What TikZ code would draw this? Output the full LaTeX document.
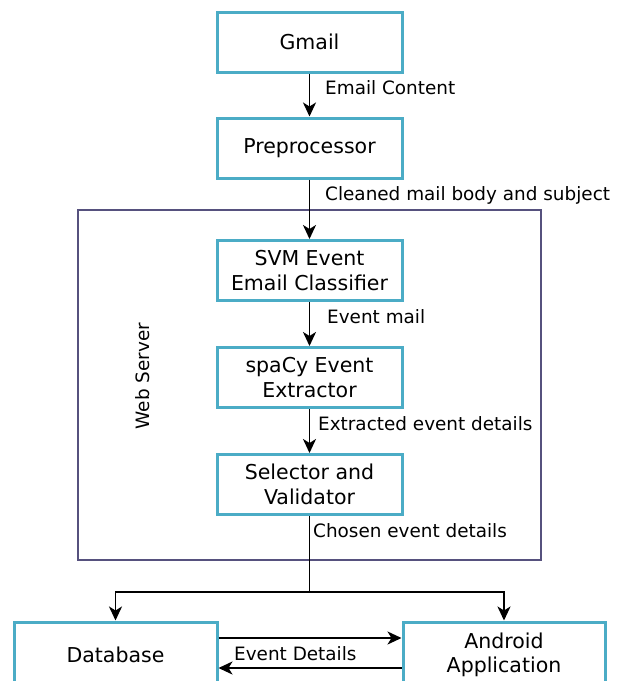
\documentclass[tikz,border=0pt]{standalone}
\usepackage{fontspec}
\setmainfont{DejaVu Sans}
\usetikzlibrary{arrows.meta}
\definecolor{boxc}{RGB}{75,172,198}
\definecolor{wsc}{RGB}{86,81,126}
\tikzset{
  x=1pt, y=-1pt,
  procbox/.style={draw=boxc, line width=3pt, fill=white, minimum width=185pt, minimum height=60pt, align=center, inner sep=0pt, font=\fontsize{20.5}{24.5}\selectfont},
  lbl/.style={anchor=west, inner sep=0pt, font=\fontsize{18.4}{22}\selectfont},
  arr/.style={line width=1.9pt, -{Stealth[length=14pt,width=13pt,inset=4pt]}},
  ln/.style={line width=1.9pt}
}
\begin{document}
\begin{tikzpicture}
\useasboundingbox (0,0) rectangle (624,681);
\clip (0,0) rectangle (624,681);
% web server container
\node[draw=wsc, line width=1.9pt, minimum width=463pt, minimum height=350pt, inner sep=0pt] (ws) at (309.5,385) {};
\node[rotate=90, font=\fontsize{18.4}{22}\selectfont, inner sep=0pt] (wslbl) at (143,376) {Web Server};
% boxes
\node[procbox] (gmail) at (309.5,42) {Gmail};
\node[procbox] (pre) at (309.5,148) {Preprocessor};
\node[procbox] (svm) at (309.5,270.5) {SVM Event\\Email Classifier};
\node[procbox] (spacy) at (309.5,377.5) {spaCy Event\\Extractor};
\node[procbox] (sel) at (309.5,484.5) {Selector and\\Validator};
\node[procbox, minimum width=203pt, minimum height=66pt] (db) at (115.5,655) {Database};
\node[procbox, minimum width=202pt, minimum height=66pt] (app) at (504,655) {Android\\Application};
% connectors
\draw[arr] (gmail) -- (pre);
\draw[arr] (pre) -- (svm);
\draw[arr] (svm) -- (spacy);
\draw[arr] (spacy) -- (sel);
\coordinate (split) at (309.5,592);
\draw[ln] (sel.south) -- (split);
\draw[arr] (split) -| (db.north);
\draw[arr] (split) -| (app.north);
\draw[arr] ([yshift=17pt]db.east) -- ([yshift=17pt]app.west);
\draw[arr] ([yshift=-13pt]app.west) -- ([yshift=-13pt]db.east);
% labels
\node[lbl] (l1) at (325,88) {Email Content};
\node[lbl] (l2) at (325,195) {Cleaned mail body and subject};
\node[lbl] (l3) at (327,317) {Event mail};
\node[lbl] (l4) at (318,424) {Extracted event details};
\node[lbl] (l5) at (313,531) {Chosen event details};
\node[lbl] (l6) at (234,654) {Event Details};
\end{tikzpicture}
\end{document}
